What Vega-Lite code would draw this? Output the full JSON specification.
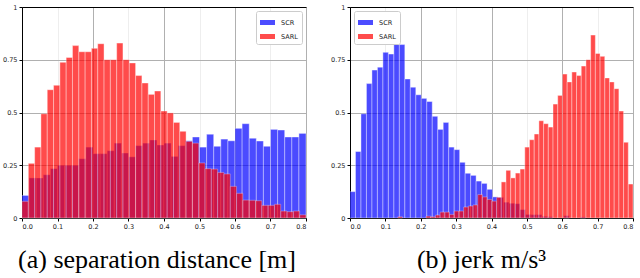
{
  "$schema": "https://vega.github.io/schema/vega-lite/v6.json",
  "background": "white",
  "padding": {"left": 2, "top": 4, "right": 2, "bottom": 0},
  "spacing": 23,
  "datasets": {
    "a": [
      {"s":"SCR","lo":0.00,"hi":0.02,"y":0.107},{"s":"SCR","lo":0.02,"hi":0.04,"y":0.19},{"s":"SCR","lo":0.04,"hi":0.06,"y":0.19},{"s":"SCR","lo":0.06,"hi":0.08,"y":0.205},
      {"s":"SCR","lo":0.08,"hi":0.10,"y":0.234},{"s":"SCR","lo":0.10,"hi":0.12,"y":0.25},{"s":"SCR","lo":0.12,"hi":0.14,"y":0.25},{"s":"SCR","lo":0.14,"hi":0.16,"y":0.25},
      {"s":"SCR","lo":0.16,"hi":0.18,"y":0.281},{"s":"SCR","lo":0.18,"hi":0.20,"y":0.336},{"s":"SCR","lo":0.20,"hi":0.22,"y":0.305},{"s":"SCR","lo":0.22,"hi":0.24,"y":0.305},
      {"s":"SCR","lo":0.24,"hi":0.26,"y":0.319},{"s":"SCR","lo":0.26,"hi":0.28,"y":0.355},{"s":"SCR","lo":0.28,"hi":0.30,"y":0.308},{"s":"SCR","lo":0.30,"hi":0.32,"y":0.29},
      {"s":"SCR","lo":0.32,"hi":0.34,"y":0.343},{"s":"SCR","lo":0.34,"hi":0.36,"y":0.355},{"s":"SCR","lo":0.36,"hi":0.38,"y":0.37},{"s":"SCR","lo":0.38,"hi":0.40,"y":0.346},
      {"s":"SCR","lo":0.40,"hi":0.42,"y":0.355},{"s":"SCR","lo":0.42,"hi":0.44,"y":0.292},{"s":"SCR","lo":0.44,"hi":0.46,"y":0.343},{"s":"SCR","lo":0.46,"hi":0.48,"y":0.366},
      {"s":"SCR","lo":0.48,"hi":0.50,"y":0.384},{"s":"SCR","lo":0.50,"hi":0.52,"y":0.336},{"s":"SCR","lo":0.52,"hi":0.54,"y":0.397},{"s":"SCR","lo":0.54,"hi":0.56,"y":0.34},
      {"s":"SCR","lo":0.56,"hi":0.58,"y":0.374},{"s":"SCR","lo":0.58,"hi":0.60,"y":0.366},{"s":"SCR","lo":0.60,"hi":0.62,"y":0.425},{"s":"SCR","lo":0.62,"hi":0.64,"y":0.447},
      {"s":"SCR","lo":0.64,"hi":0.66,"y":0.378},{"s":"SCR","lo":0.66,"hi":0.68,"y":0.365},{"s":"SCR","lo":0.68,"hi":0.70,"y":0.34},{"s":"SCR","lo":0.70,"hi":0.72,"y":0.42},
      {"s":"SCR","lo":0.72,"hi":0.74,"y":0.417},{"s":"SCR","lo":0.74,"hi":0.76,"y":0.384},{"s":"SCR","lo":0.76,"hi":0.78,"y":0.384},{"s":"SCR","lo":0.78,"hi":0.80,"y":0.401},
      {"s":"SARL","lo":0.0000,"hi":0.0178,"y":0.079},{"s":"SARL","lo":0.0178,"hi":0.0356,"y":0.259},{"s":"SARL","lo":0.0356,"hi":0.0533,"y":0.336},{"s":"SARL","lo":0.0533,"hi":0.0711,"y":0.494},
      {"s":"SARL","lo":0.0711,"hi":0.0889,"y":0.608},{"s":"SARL","lo":0.0889,"hi":0.1067,"y":0.629},{"s":"SARL","lo":0.1067,"hi":0.1244,"y":0.738},{"s":"SARL","lo":0.1244,"hi":0.1422,"y":0.761},
      {"s":"SARL","lo":0.1422,"hi":0.1600,"y":0.817},{"s":"SARL","lo":0.1600,"hi":0.1778,"y":0.788},{"s":"SARL","lo":0.1778,"hi":0.1956,"y":0.788},{"s":"SARL","lo":0.1956,"hi":0.2133,"y":0.804},
      {"s":"SARL","lo":0.2133,"hi":0.2311,"y":0.826},{"s":"SARL","lo":0.2311,"hi":0.2489,"y":0.75},{"s":"SARL","lo":0.2489,"hi":0.2667,"y":0.75},{"s":"SARL","lo":0.2667,"hi":0.2844,"y":0.829},
      {"s":"SARL","lo":0.2844,"hi":0.3022,"y":0.75},{"s":"SARL","lo":0.3022,"hi":0.3200,"y":0.735},{"s":"SARL","lo":0.3200,"hi":0.3378,"y":0.675},{"s":"SARL","lo":0.3378,"hi":0.3556,"y":0.64},
      {"s":"SARL","lo":0.3556,"hi":0.3733,"y":0.586},{"s":"SARL","lo":0.3733,"hi":0.3911,"y":0.602},{"s":"SARL","lo":0.3911,"hi":0.4089,"y":0.507},{"s":"SARL","lo":0.4089,"hi":0.4267,"y":0.498},
      {"s":"SARL","lo":0.4267,"hi":0.4444,"y":0.453},{"s":"SARL","lo":0.4444,"hi":0.4622,"y":0.411},{"s":"SARL","lo":0.4622,"hi":0.4800,"y":0.363},{"s":"SARL","lo":0.4800,"hi":0.4978,"y":0.355},
      {"s":"SARL","lo":0.4978,"hi":0.5156,"y":0.261},{"s":"SARL","lo":0.5156,"hi":0.5333,"y":0.234},{"s":"SARL","lo":0.5333,"hi":0.5511,"y":0.232},{"s":"SARL","lo":0.5511,"hi":0.5689,"y":0.216},
      {"s":"SARL","lo":0.5689,"hi":0.5867,"y":0.209},{"s":"SARL","lo":0.5867,"hi":0.6044,"y":0.15},{"s":"SARL","lo":0.6044,"hi":0.6222,"y":0.117},{"s":"SARL","lo":0.6222,"hi":0.6400,"y":0.085},
      {"s":"SARL","lo":0.6400,"hi":0.6578,"y":0.084},{"s":"SARL","lo":0.6578,"hi":0.6756,"y":0.082},{"s":"SARL","lo":0.6756,"hi":0.6933,"y":0.06},{"s":"SARL","lo":0.6933,"hi":0.7111,"y":0.06},
      {"s":"SARL","lo":0.7111,"hi":0.7289,"y":0.065},{"s":"SARL","lo":0.7289,"hi":0.7467,"y":0.033},{"s":"SARL","lo":0.7467,"hi":0.7644,"y":0.03},{"s":"SARL","lo":0.7644,"hi":0.7822,"y":0.033},
      {"s":"SARL","lo":0.7822,"hi":0.8000,"y":0.015}
    ],
    "b": [
      {"s":"SCR","lo":0.0000,"hi":0.0155,"y":0.125},{"s":"SCR","lo":0.0155,"hi":0.0310,"y":0.315},{"s":"SCR","lo":0.0310,"hi":0.0465,"y":0.494},{"s":"SCR","lo":0.0465,"hi":0.0620,"y":0.637},
      {"s":"SCR","lo":0.0620,"hi":0.0775,"y":0.701},{"s":"SCR","lo":0.0775,"hi":0.0930,"y":0.715},{"s":"SCR","lo":0.0930,"hi":0.1085,"y":0.785},{"s":"SCR","lo":0.1085,"hi":0.1240,"y":0.777},
      {"s":"SCR","lo":0.1240,"hi":0.1395,"y":0.822},{"s":"SCR","lo":0.1395,"hi":0.1550,"y":0.822},{"s":"SCR","lo":0.1550,"hi":0.1705,"y":0.659},{"s":"SCR","lo":0.1705,"hi":0.1860,"y":0.62},
      {"s":"SCR","lo":0.1860,"hi":0.2015,"y":0.584},{"s":"SCR","lo":0.2015,"hi":0.2170,"y":0.567},{"s":"SCR","lo":0.2170,"hi":0.2325,"y":0.552},{"s":"SCR","lo":0.2325,"hi":0.2480,"y":0.482},
      {"s":"SCR","lo":0.2480,"hi":0.2635,"y":0.42},{"s":"SCR","lo":0.2635,"hi":0.2790,"y":0.453},{"s":"SCR","lo":0.2790,"hi":0.2945,"y":0.336},{"s":"SCR","lo":0.2945,"hi":0.3100,"y":0.324},
      {"s":"SCR","lo":0.3100,"hi":0.3255,"y":0.264},{"s":"SCR","lo":0.3255,"hi":0.3410,"y":0.212},{"s":"SCR","lo":0.3410,"hi":0.3565,"y":0.202},{"s":"SCR","lo":0.3565,"hi":0.3720,"y":0.175},
      {"s":"SCR","lo":0.3720,"hi":0.3875,"y":0.164},{"s":"SCR","lo":0.3875,"hi":0.4030,"y":0.136},{"s":"SCR","lo":0.4030,"hi":0.4185,"y":0.1},{"s":"SCR","lo":0.4185,"hi":0.4340,"y":0.098},
      {"s":"SCR","lo":0.4340,"hi":0.4495,"y":0.075},{"s":"SCR","lo":0.4495,"hi":0.4650,"y":0.07},{"s":"SCR","lo":0.4650,"hi":0.4805,"y":0.068},{"s":"SCR","lo":0.4805,"hi":0.4960,"y":0.04},
      {"s":"SCR","lo":0.4960,"hi":0.5115,"y":0.017},{"s":"SCR","lo":0.5115,"hi":0.5270,"y":0.016},{"s":"SCR","lo":0.5270,"hi":0.5425,"y":0.016},{"s":"SCR","lo":0.5425,"hi":0.5580,"y":0.008},
      {"s":"SCR","lo":0.5580,"hi":0.5735,"y":0.006},{"s":"SCR","lo":0.6045,"hi":0.6200,"y":0.011},{"s":"SCR","lo":0.6510,"hi":0.6665,"y":0.005},
      {"s":"SARL","lo":0.1350,"hi":0.1483,"y":0.006},{"s":"SARL","lo":0.2148,"hi":0.2281,"y":0.009},{"s":"SARL","lo":0.2281,"hi":0.2414,"y":0.006},{"s":"SARL","lo":0.2414,"hi":0.2547,"y":0.014},
      {"s":"SARL","lo":0.2547,"hi":0.2680,"y":0.028},{"s":"SARL","lo":0.2680,"hi":0.2813,"y":0.028},{"s":"SARL","lo":0.2813,"hi":0.2946,"y":0.017},{"s":"SARL","lo":0.2946,"hi":0.3079,"y":0.033},
      {"s":"SARL","lo":0.3079,"hi":0.3212,"y":0.033},{"s":"SARL","lo":0.3212,"hi":0.3345,"y":0.052},{"s":"SARL","lo":0.3345,"hi":0.3478,"y":0.057},{"s":"SARL","lo":0.3478,"hi":0.3611,"y":0.062},
      {"s":"SARL","lo":0.3611,"hi":0.3744,"y":0.111},{"s":"SARL","lo":0.3744,"hi":0.3877,"y":0.1},{"s":"SARL","lo":0.3877,"hi":0.4010,"y":0.088},{"s":"SARL","lo":0.4010,"hi":0.4143,"y":0.08},
      {"s":"SARL","lo":0.4143,"hi":0.4276,"y":0.098},{"s":"SARL","lo":0.4276,"hi":0.4409,"y":0.171},{"s":"SARL","lo":0.4409,"hi":0.4542,"y":0.226},{"s":"SARL","lo":0.4542,"hi":0.4675,"y":0.19},
      {"s":"SARL","lo":0.4675,"hi":0.4808,"y":0.213},{"s":"SARL","lo":0.4808,"hi":0.4941,"y":0.232},{"s":"SARL","lo":0.4941,"hi":0.5074,"y":0.336},{"s":"SARL","lo":0.5074,"hi":0.5207,"y":0.371},
      {"s":"SARL","lo":0.5207,"hi":0.5340,"y":0.398},{"s":"SARL","lo":0.5340,"hi":0.5473,"y":0.461},{"s":"SARL","lo":0.5473,"hi":0.5606,"y":0.447},{"s":"SARL","lo":0.5606,"hi":0.5739,"y":0.431},
      {"s":"SARL","lo":0.5739,"hi":0.5872,"y":0.54},{"s":"SARL","lo":0.5872,"hi":0.6005,"y":0.581},{"s":"SARL","lo":0.6005,"hi":0.6138,"y":0.682},{"s":"SARL","lo":0.6138,"hi":0.6271,"y":0.645},
      {"s":"SARL","lo":0.6271,"hi":0.6404,"y":0.692},{"s":"SARL","lo":0.6404,"hi":0.6537,"y":0.675},{"s":"SARL","lo":0.6537,"hi":0.6670,"y":0.72},{"s":"SARL","lo":0.6670,"hi":0.6803,"y":0.75},
      {"s":"SARL","lo":0.6803,"hi":0.6936,"y":0.867},{"s":"SARL","lo":0.6936,"hi":0.7069,"y":0.78},{"s":"SARL","lo":0.7069,"hi":0.7202,"y":0.766},{"s":"SARL","lo":0.7202,"hi":0.7335,"y":0.664},
      {"s":"SARL","lo":0.7335,"hi":0.7468,"y":0.645},{"s":"SARL","lo":0.7468,"hi":0.7601,"y":0.613},{"s":"SARL","lo":0.7601,"hi":0.7734,"y":0.507},{"s":"SARL","lo":0.7734,"hi":0.7867,"y":0.359},
      {"s":"SARL","lo":0.7867,"hi":0.8000,"y":0.161}
    ]
  },
  "hconcat": [
    {
      "width": 284, "height": 211,
      "data": {"name": "a"},
      "title": {"text": "(a) separation distance [m]", "orient": "bottom", "anchor": "middle", "font": "Liberation Serif", "fontSize": 26, "fontWeight": "normal", "color": "black", "offset": 17, "dx": -7},
      "resolve": {"axis": {"x": "independent"}},
      "layer": [
        {
          "transform": [{"filter": "datum.s == 'SCR'"}],
          "mark": {"type": "bar", "opacity": 0.7, "stroke": "white", "strokeWidth": 0.5, "strokeOpacity": 0.8},
          "encoding": {
            "x": {"field": "lo", "type": "quantitative", "scale": {"domain": [0, 0.8], "nice": false, "zero": false},
                  "axis": {"orient": "bottom", "values": [0,0.1,0.2,0.3,0.4,0.5,0.6,0.7,0.8], "format": ".1f", "grid": true,
                           "gridColor": {"condition": {"test": "round(datum.value*10) % 2 == 1", "value": "#eeeeee"}, "value": "#b0b0b0"}}},
            "x2": {"field": "hi"},
            "y": {"field": "y", "type": "quantitative", "scale": {"domain": [0, 1], "nice": false},
                  "axis": {"values": [0, 0.25, 0.5, 0.75, 1], "labelExpr": "'' + datum.value", "grid": true}},
            "y2": {"datum": 0},
            "color": {"field": "s", "type": "nominal", "scale": {"domain": ["SCR", "SARL"], "range": ["#0000ff", "#ff0000"]},
                      "legend": {"orient": "top-right", "offset": 4}}
          }
        },
        {
          "transform": [{"filter": "datum.s == 'SARL'"}],
          "mark": {"type": "bar", "opacity": 0.7, "stroke": "white", "strokeWidth": 0.5, "strokeOpacity": 0.8},
          "encoding": {
            "x": {"field": "lo", "type": "quantitative", "scale": {"domain": [0, 0.8], "nice": false, "zero": false},
                  "axis": {"orient": "top", "labels": false, "ticks": false, "grid": false}},
            "x2": {"field": "hi"},
            "y": {"field": "y", "type": "quantitative", "scale": {"domain": [0, 1], "nice": false}},
            "y2": {"datum": 0},
            "color": {"field": "s", "type": "nominal", "scale": {"domain": ["SCR", "SARL"], "range": ["#0000ff", "#ff0000"]}}
          }
        }
      ]
    },
    {
      "width": 283, "height": 211,
      "data": {"name": "b"},
      "title": {"text": "(b) jerk m/s³", "orient": "bottom", "anchor": "middle", "font": "Liberation Serif", "fontSize": 26, "fontWeight": "normal", "color": "black", "offset": 17, "dx": -10},
      "resolve": {"axis": {"x": "independent"}},
      "layer": [
        {
          "transform": [{"filter": "datum.s == 'SCR'"}],
          "mark": {"type": "bar", "opacity": 0.7, "stroke": "white", "strokeWidth": 0.5, "strokeOpacity": 0.8},
          "encoding": {
            "x": {"field": "lo", "type": "quantitative", "scale": {"domain": [0, 0.8], "nice": false, "zero": false},
                  "axis": {"orient": "bottom", "values": [0,0.1,0.2,0.3,0.4,0.5,0.6,0.7,0.8], "format": ".1f", "grid": true,
                           "gridColor": {"condition": {"test": "round(datum.value*10) % 2 == 1", "value": "#eeeeee"}, "value": "#b0b0b0"}}},
            "x2": {"field": "hi"},
            "y": {"field": "y", "type": "quantitative", "scale": {"domain": [0, 1], "nice": false},
                  "axis": {"values": [0, 0.25, 0.5, 0.75, 1], "labelExpr": "'' + datum.value", "grid": true}},
            "y2": {"datum": 0},
            "color": {"field": "s", "type": "nominal", "scale": {"domain": ["SCR", "SARL"], "range": ["#0000ff", "#ff0000"]},
                      "legend": {"orient": "top-left", "offset": 4}}
          }
        },
        {
          "transform": [{"filter": "datum.s == 'SARL'"}],
          "mark": {"type": "bar", "opacity": 0.7, "stroke": "white", "strokeWidth": 0.5, "strokeOpacity": 0.8},
          "encoding": {
            "x": {"field": "lo", "type": "quantitative", "scale": {"domain": [0, 0.8], "nice": false, "zero": false},
                  "axis": {"orient": "top", "labels": false, "ticks": false, "grid": false}},
            "x2": {"field": "hi"},
            "y": {"field": "y", "type": "quantitative", "scale": {"domain": [0, 1], "nice": false}},
            "y2": {"datum": 0},
            "color": {"field": "s", "type": "nominal", "scale": {"domain": ["SCR", "SARL"], "range": ["#0000ff", "#ff0000"]}}
          }
        }
      ]
    }
  ],
  "resolve": {"scale": {"color": "independent"}, "legend": {"color": "independent"}},
  "config": {
    "view": {"stroke": null},
    "axis": {"title": null, "domainColor": "black", "domainWidth": 1, "tickColor": "black", "tickSize": 3, "labelFont": "DejaVu Sans", "labelFontSize": 6.5, "labelColor": "#222222", "labelPadding": 2, "gridColor": "#b0b0b0", "gridWidth": 1},
    "legend": {"title": null, "fillColor": "white", "strokeColor": "#cccccc", "padding": 4, "cornerRadius": 2, "labelFont": "DejaVu Sans", "labelFontSize": 6.5, "labelColor": "#222222", "symbolType": "M-1,-0.33H1V0.33H-1Z", "symbolSize": 225, "symbolStrokeWidth": 0, "symbolOpacity": 0.7, "rowPadding": 3, "labelOffset": 6}
  }
}
